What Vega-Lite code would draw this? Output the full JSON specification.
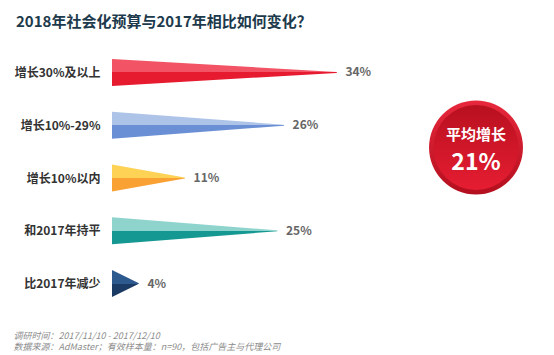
{
  "$schema": "https://vega.github.io/schema/vega-lite/v6.json",
  "padding": {"left": 13, "top": 15, "right": 0, "bottom": 0},
  "background": "white",
  "title": {"text": "2018年社会化预算与2017年相比如何变化？", "anchor": "start", "fontSize": 15, "fontWeight": "bold", "color": "#1d3a4c", "font": "Noto Sans CJK SC", "offset": 16, "dx": 3},
  "config": {"view": {"stroke": null}, "font": "Noto Sans CJK SC"},
  "datasets": {
    "bars": [
      {"cat": "增长30%及以上", "start": 0, "pct": 0.34},
      {"cat": "增长10%-29%", "start": 0, "pct": 0.26},
      {"cat": "增长10%以内", "start": 0, "pct": 0.11},
      {"cat": "和2017年持平", "start": 0, "pct": 0.25},
      {"cat": "比2017年减少", "start": 0, "pct": 0.04}
    ],
    "avg": [{"label": "平均增长", "value": 0.21}]
  },
  "spacing": 14,
  "hconcat": [
    {
      "width": 297,
      "height": 264,
      "data": {"name": "bars"},
      "transform": [{"fold": ["start", "pct"], "as": ["end", "v"]}],
      "encoding": {
        "y": {
          "field": "cat", "type": "nominal",
          "sort": ["增长30%及以上", "增长10%-29%", "增长10%以内", "和2017年持平", "比2017年减少"],
          "axis": {"title": null, "domain": false, "ticks": false, "labelPadding": 12, "labelFontSize": 12, "labelFontWeight": "bold", "labelColor": "#333333", "labelLimit": 200}
        },
        "x": {
          "field": "v", "type": "quantitative",
          "scale": {"domain": [0, 0.45], "nice": false},
          "axis": {
            "labels": false, "ticks": false, "domain": false, "grid": false,
            "title": ["调研时间：2017/11/10 - 2017/12/10", "数据来源：AdMaster；有效样本量：n=90，包括广告主与代理公司"],
            "titleFontSize": 9, "titleFontStyle": "italic", "titleFontWeight": "normal", "titleColor": "#8c8c8c",
            "titleAlign": "left", "titleBaseline": "top", "titleX": -99, "titleY": 21, "titleLineHeight": 11.5
          }
        }
      },
      "layer": [
        {
          "transform": [{"filter": {"field": "cat", "equal": "增长30%及以上"}}],
          "mark": {"type": "trail", "clip": true, "color": {"gradient": "linear", "x1": 0, "y1": 0, "x2": 0, "y2": 1, "stops": [{"offset": 0, "color": "#f25465"}, {"offset": 0.5, "color": "#f25465"}, {"offset": 0.5, "color": "#e61b30"}, {"offset": 1, "color": "#e61b30"}]}},
          "encoding": {"size": {"field": "end", "type": "ordinal", "scale": {"type": "point", "domain": ["start", "pct"], "range": [27, 0], "padding": 0}, "legend": null}}
        },
        {
          "transform": [{"filter": {"field": "cat", "equal": "增长10%-29%"}}],
          "mark": {"type": "trail", "clip": true, "color": {"gradient": "linear", "x1": 0, "y1": 0, "x2": 0, "y2": 1, "stops": [{"offset": 0, "color": "#aec3e8"}, {"offset": 0.5, "color": "#aec3e8"}, {"offset": 0.5, "color": "#6b8fd5"}, {"offset": 1, "color": "#6b8fd5"}]}},
          "encoding": {"size": {"field": "end", "type": "ordinal", "scale": {"type": "point", "domain": ["start", "pct"], "range": [27, 0], "padding": 0}, "legend": null}}
        },
        {
          "transform": [{"filter": {"field": "cat", "equal": "增长10%以内"}}],
          "mark": {"type": "trail", "clip": true, "color": {"gradient": "linear", "x1": 0, "y1": 0, "x2": 0, "y2": 1, "stops": [{"offset": 0, "color": "#fdd255"}, {"offset": 0.5, "color": "#fdd255"}, {"offset": 0.5, "color": "#f9a132"}, {"offset": 1, "color": "#f9a132"}]}},
          "encoding": {"size": {"field": "end", "type": "ordinal", "scale": {"type": "point", "domain": ["start", "pct"], "range": [27, 0], "padding": 0}, "legend": null}}
        },
        {
          "transform": [{"filter": {"field": "cat", "equal": "和2017年持平"}}],
          "mark": {"type": "trail", "clip": true, "color": {"gradient": "linear", "x1": 0, "y1": 0, "x2": 0, "y2": 1, "stops": [{"offset": 0, "color": "#8fd3cd"}, {"offset": 0.5, "color": "#8fd3cd"}, {"offset": 0.5, "color": "#159892"}, {"offset": 1, "color": "#159892"}]}},
          "encoding": {"size": {"field": "end", "type": "ordinal", "scale": {"type": "point", "domain": ["start", "pct"], "range": [27, 0], "padding": 0}, "legend": null}}
        },
        {
          "transform": [{"filter": {"field": "cat", "equal": "比2017年减少"}}],
          "mark": {"type": "trail", "clip": true, "color": {"gradient": "linear", "x1": 0, "y1": 0, "x2": 0, "y2": 1, "stops": [{"offset": 0, "color": "#2d5a8e"}, {"offset": 0.5, "color": "#2d5a8e"}, {"offset": 0.5, "color": "#1b3b64"}, {"offset": 1, "color": "#1b3b64"}]}},
          "encoding": {"size": {"field": "end", "type": "ordinal", "scale": {"type": "point", "domain": ["start", "pct"], "range": [27, 0], "padding": 0}, "legend": null}}
        },
        {
          "transform": [{"filter": {"field": "end", "equal": "pct"}}],
          "mark": {"type": "text", "align": "left", "baseline": "middle", "dx": 9, "fontSize": 12, "fontWeight": "bold", "color": "#666666"},
          "encoding": {"text": {"field": "v", "type": "quantitative", "format": ".0%"}}
        }
      ]
    },
    {
      "width": 106,
      "height": 203,
      "data": {"name": "avg"},
      "layer": [
        {
          "mark": {"type": "point", "shape": "circle", "filled": true, "size": 8825, "opacity": 1, "strokeWidth": 0,
            "fill": {"gradient": "linear", "x1": 0, "y1": 0, "x2": 0, "y2": 1, "stops": [{"offset": 0, "color": "#e8283c"}, {"offset": 1, "color": "#b30f1e"}]}}
        },
        {
          "mark": {"type": "point", "shape": "circle", "filled": true, "size": 7238, "opacity": 1, "strokeWidth": 0,
            "fill": {"gradient": "linear", "x1": 0, "y1": 0, "x2": 0, "y2": 1, "stops": [{"offset": 0, "color": "#b8101f"}, {"offset": 1, "color": "#e61d32"}]}}
        },
        {
          "mark": {"type": "text", "dy": -13, "fontSize": 15, "fontWeight": "bold", "color": "white"},
          "encoding": {"text": {"field": "label", "type": "nominal"}}
        },
        {
          "mark": {"type": "text", "dy": 15, "fontSize": 23, "fontWeight": "bold", "color": "white"},
          "encoding": {"text": {"field": "value", "type": "quantitative", "format": ".0%"}}
        }
      ]
    }
  ]
}
